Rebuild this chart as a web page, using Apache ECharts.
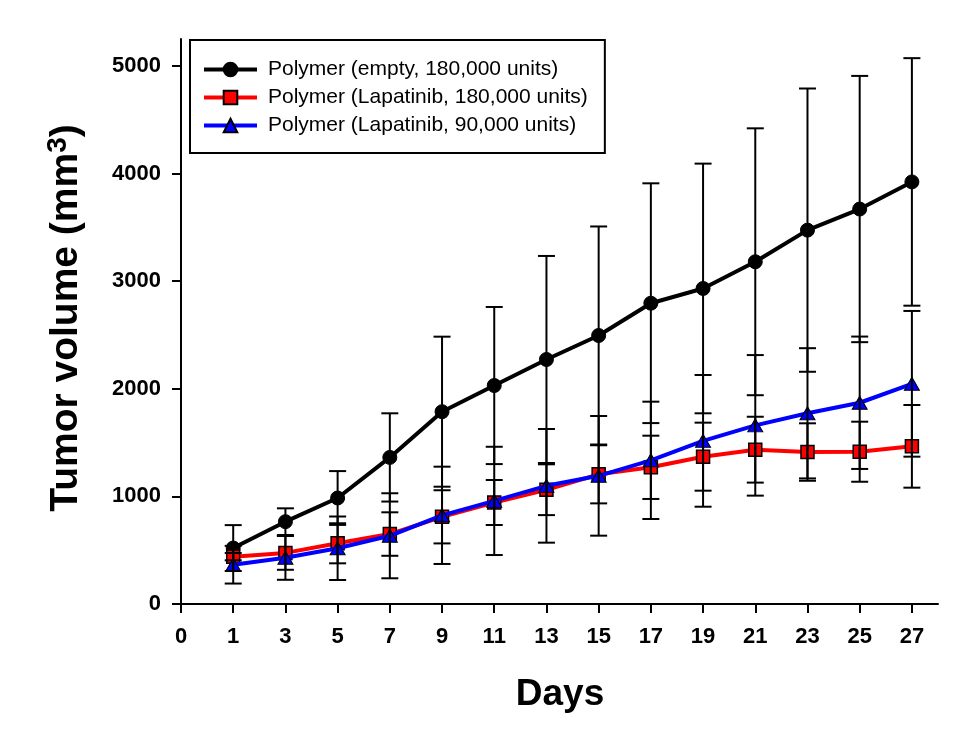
<!DOCTYPE html>
<html>
<head>
<meta charset="utf-8">
<script src="https://cdn.jsdelivr.net/npm/echarts@6/dist/echarts.min.js"></script>
<style>
html,body{margin:0;padding:0;background:#fff;}
#chart{width:957px;height:733px;}
</style>
</head>
<body>
<div id="chart"></div>
<script>
// ---- data ----
var days = [1, 3, 5, 7, 9, 11, 13, 15, 17, 19, 21, 23, 25, 27];
var seriesNames = ['Polymer (empty, 180,000 units)', 'Polymer (Lapatinib, 180,000 units)', 'Polymer (Lapatinib, 90,000 units)'];
var emptyMean = [520, 765, 985, 1362, 1787, 2030, 2272, 2495, 2795, 2932, 3180, 3474, 3670, 3922];
var emptySD   = [213, 124, 250, 410, 697, 730, 962, 1013, 1114, 1160, 1240, 1316, 1237, 1150];
var lap180Mean = [440, 475, 564, 650, 810, 943, 1062, 1205, 1270, 1369, 1434, 1412, 1415, 1465];
var lap180SD   = [34, 157, 186, 202, 247, 209, 236, 270, 294, 316, 306, 267, 279, 384];
var lap90Mean = [365, 430, 518, 634, 824, 958, 1098, 1191, 1335, 1516, 1660, 1772, 1870, 2046];
var lap90SD   = [175, 205, 295, 395, 452, 503, 528, 556, 545, 612, 653, 605, 615, 677];
var xTickValues = [-1, 1, 3, 5, 7, 9, 11, 13, 15, 17, 19, 21, 23, 25, 27];
var xTickLabels = ['0', '1', '3', '5', '7', '9', '11', '13', '15', '17', '19', '21', '23', '25', '27'];
var yTickValues = [0, 1000, 2000, 3000, 4000, 5000];
var yTickLabels = ['0', '1000', '2000', '3000', '4000', '5000'];

var FONT = "'Liberation Sans', Arial, sans-serif";

function pairs(mean) { return days.map(function (d, i) { return [d, mean[i]]; }); }
function errData(mean, sd) { return days.map(function (d, i) { return [d, mean[i] - sd[i], mean[i] + sd[i]]; }); }

var errAll = [].concat(errData(emptyMean, emptySD), errData(lap180Mean, lap180SD), errData(lap90Mean, lap90SD));

function renderErr(params, api) {
  var x = api.value(0);
  var lo = api.coord([x, api.value(1)]);
  var hi = api.coord([x, api.value(2)]);
  var hw = 8.5;
  var st = { stroke: '#000', lineWidth: 2 };
  return {
    type: 'group',
    children: [
      { type: 'line', shape: { x1: lo[0], y1: lo[1], x2: hi[0], y2: hi[1] }, style: st },
      { type: 'line', shape: { x1: lo[0] - hw, y1: lo[1], x2: lo[0] + hw, y2: lo[1] }, style: st },
      { type: 'line', shape: { x1: hi[0] - hw, y1: hi[1], x2: hi[0] + hw, y2: hi[1] }, style: st }
    ]
  };
}

var chart = echarts.init(document.getElementById('chart'), null, { renderer: 'canvas' });
chart.setOption({
  animation: false,
  backgroundColor: '#fff',
  grid: { left: 181, right: 19, top: 39, bottom: 129, containLabel: false },
  xAxis: {
    type: 'value', min: -1, max: 28,
    axisLine: { show: true, onZero: false, lineStyle: { color: '#000', width: 2 } },
    axisTick: { show: true, length: 9, lineStyle: { color: '#000', width: 2 }, customValues: xTickValues },
    axisLabel: {
      customValues: xTickValues, margin: 22,
      color: '#000', fontFamily: FONT, fontWeight: 'bold', fontSize: 22,
      formatter: function (v) { var i = xTickValues.indexOf(v); return i >= 0 ? xTickLabels[i] : ''; }
    },
    splitLine: { show: false }
  },
  yAxis: {
    type: 'value', min: 0, max: 5250,
    axisLine: { show: true, onZero: false, lineStyle: { color: '#000', width: 2 } },
    axisTick: { show: true, length: 9, lineStyle: { color: '#000', width: 2 }, customValues: yTickValues },
    axisLabel: {
      customValues: yTickValues, margin: 20,
      color: '#000', fontFamily: FONT, fontWeight: 'bold', fontSize: 22,
      formatter: function (v) { var i = yTickValues.indexOf(v); return i >= 0 ? yTickLabels[i] : ''; }
    },
    splitLine: { show: false }
  },
  legend: {
    data: seriesNames,
    orient: 'vertical',
    left: 190, top: 40,
    padding: [19, 17, 17, 12],
    itemWidth: 53, itemHeight: 17, itemGap: 7,
    borderColor: '#000', borderWidth: 2,
    backgroundColor: '#fff',
    lineStyle: { width: 4 },
    textStyle: { color: '#000', fontFamily: FONT, fontSize: 21, padding: [0, 0, 0, 6] }
  },
  graphic: [
    {
      type: 'text', x: 560, y: 695,
      style: { text: 'Days', font: "bold 37px " + FONT, fill: '#000', align: 'center', verticalAlign: 'middle' }
    },
    {
      type: 'text', x: 66, y: 318, rotation: Math.PI / 2,
      style: {
        text: '{a|Tumor volume (mm}{b|3}{a|)}',
        align: 'center', verticalAlign: 'middle',
        rich: {
          a: { font: "bold 39px " + FONT, fill: '#000', lineHeight: 44 },
          b: { font: "bold 28px " + FONT, fill: '#000', lineHeight: 30, verticalAlign: 'top' }
        }
      }
    }
  ],
  series: [
    {
      name: seriesNames[0], type: 'line', data: pairs(emptyMean),
      symbol: 'circle', symbolSize: 14, z: 2,
      lineStyle: { color: '#000', width: 4 },
      itemStyle: { color: '#000', borderColor: '#000', borderWidth: 1 }
    },
    {
      name: seriesNames[1], type: 'line', data: pairs(lap180Mean),
      symbol: 'rect', symbolSize: 13, z: 3,
      lineStyle: { color: '#ff0000', width: 4 },
      itemStyle: { color: '#ff0000', borderColor: '#000', borderWidth: 1.5 }
    },
    {
      name: seriesNames[2], type: 'line', data: pairs(lap90Mean),
      symbol: 'triangle', symbolSize: [15, 13], z: 4,
      lineStyle: { color: '#0000ff', width: 4 },
      itemStyle: { color: '#0000ff', borderColor: '#000', borderWidth: 1 }
    },
    {
      name: 'errorbars', type: 'custom', data: errAll, z: 10,
      renderItem: renderErr,
      encode: { x: 0, y: [1, 2] },
      silent: true
    }
  ]
});
</script>
</body>
</html>
